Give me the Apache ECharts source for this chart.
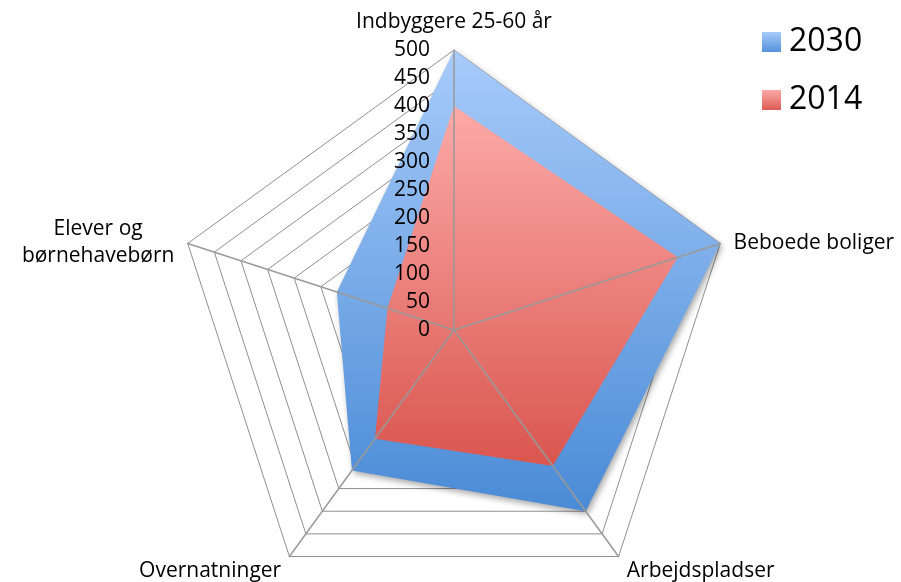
<!DOCTYPE html>
<html>
<head>
<meta charset="utf-8">
<script src="https://cdn.jsdelivr.net/npm/echarts@6/dist/echarts.min.js"></script>
<style>
html,body{margin:0;padding:0;background:#fff;}
#c{width:901px;height:582px;}
</style>
</head>
<body>
<div id="c"></div>
<script>
// Indicators in ECharts (counter-clockwise) order starting at top
var categories = ['Indbyggere 25-60 år', 'Elever og\nbørnehavebørn', 'Overnatninger', 'Arbejdspladser', 'Beboede boliger'];
var seriesNames = ['2030', '2014'];
var values2030 = [500, 220, 310, 400, 500];
var values2014 = [400, 125, 240, 300, 420];
var axisMax = 500;
var axisStep = 50;

var chart = echarts.init(document.getElementById('c'));
var FONT = '"Open Sans", "Liberation Sans", sans-serif';
function grad(top, bottom) {
  return new echarts.graphic.LinearGradient(0, 0, 0, 1, [
    { offset: 0, color: top }, { offset: 1, color: bottom }
  ]);
}
var blueTop = '#a7cbfa', blueBot = '#4a8bd6';
var redTop = '#fcaaa8', redBot = '#da564f';

var indicators = categories.map(function (c, i) {
  var o = { name: c, min: 0, max: axisMax };
  if (i === 0) o.axisLabel = { show: true };
  return o;
});
var indicatorsPlain = categories.map(function (c) { return { name: c, min: 0, max: axisMax }; });

var common = {
  center: [454, 330],
  radius: 280,
  shape: 'polygon',
  splitNumber: axisMax / axisStep
};

chart.setOption({
  animation: false,
  legend: {
    orient: 'vertical',
    left: 762,
    top: 26,
    itemWidth: 19,
    itemHeight: 20,
    itemGap: 26,
    icon: 'rect',
    padding: 0,
    textStyle: { fontFamily: FONT, fontSize: 32, color: '#000', lineHeight: 20, padding: [4, 0, 0, 3] },
    data: [
      { name: seriesNames[0], itemStyle: { color: grad(blueTop, '#5592da') } },
      { name: seriesNames[1], itemStyle: { color: grad(redTop, '#dc5b54') } }
    ]
  },
  radar: [
    Object.assign({}, common, {
      z: 0,
      indicator: indicatorsPlain,
      axisName: { show: false },
      axisLine: { show: false },
      axisLabel: { show: false },
      splitArea: { show: false },
      splitLine: { lineStyle: { color: '#8f8f8f', width: 1 } }
    }),
    Object.assign({}, common, {
      z: 3,
      indicator: indicators,
      nameGap: 14,
      axisName: {
        color: '#000',
        fontFamily: FONT,
        fontSize: 21,
        padding: [7, 0, 0, 0],
        formatter: function (n) {
          return n.split('\n').map(function (l) { return '{c|' + l + '}'; }).join('\n');
        },
        rich: { c: { align: 'center', fontFamily: FONT, fontSize: 21, color: '#000', lineHeight: 27 } }
      },
      axisLine: { show: true, lineStyle: { color: '#999', width: 1.5 } },
      axisTick: { show: false },
      axisLabel: { show: false, color: '#000', fontFamily: FONT, fontSize: 21, margin: 24 },
      splitArea: { show: false },
      splitLine: { show: false }
    })
  ],
  series: [{
    type: 'radar',
    radarIndex: 0,
    symbol: 'none',
    z: 2,
    data: [
      {
        name: seriesNames[0], value: values2030,
        lineStyle: { width: 0, color: blueBot },
        itemStyle: { color: blueBot },
        areaStyle: { color: grad(blueTop, blueBot), opacity: 1, shadowBlur: 6, shadowOffsetX: 2, shadowOffsetY: 3, shadowColor: 'rgba(0,0,0,0.35)' }
      },
      {
        name: seriesNames[1], value: values2014,
        lineStyle: { width: 0, color: redBot },
        itemStyle: { color: redBot },
        areaStyle: { color: grad(redTop, redBot), opacity: 1 }
      }
    ]
  }]
});
</script>
</body>
</html>
